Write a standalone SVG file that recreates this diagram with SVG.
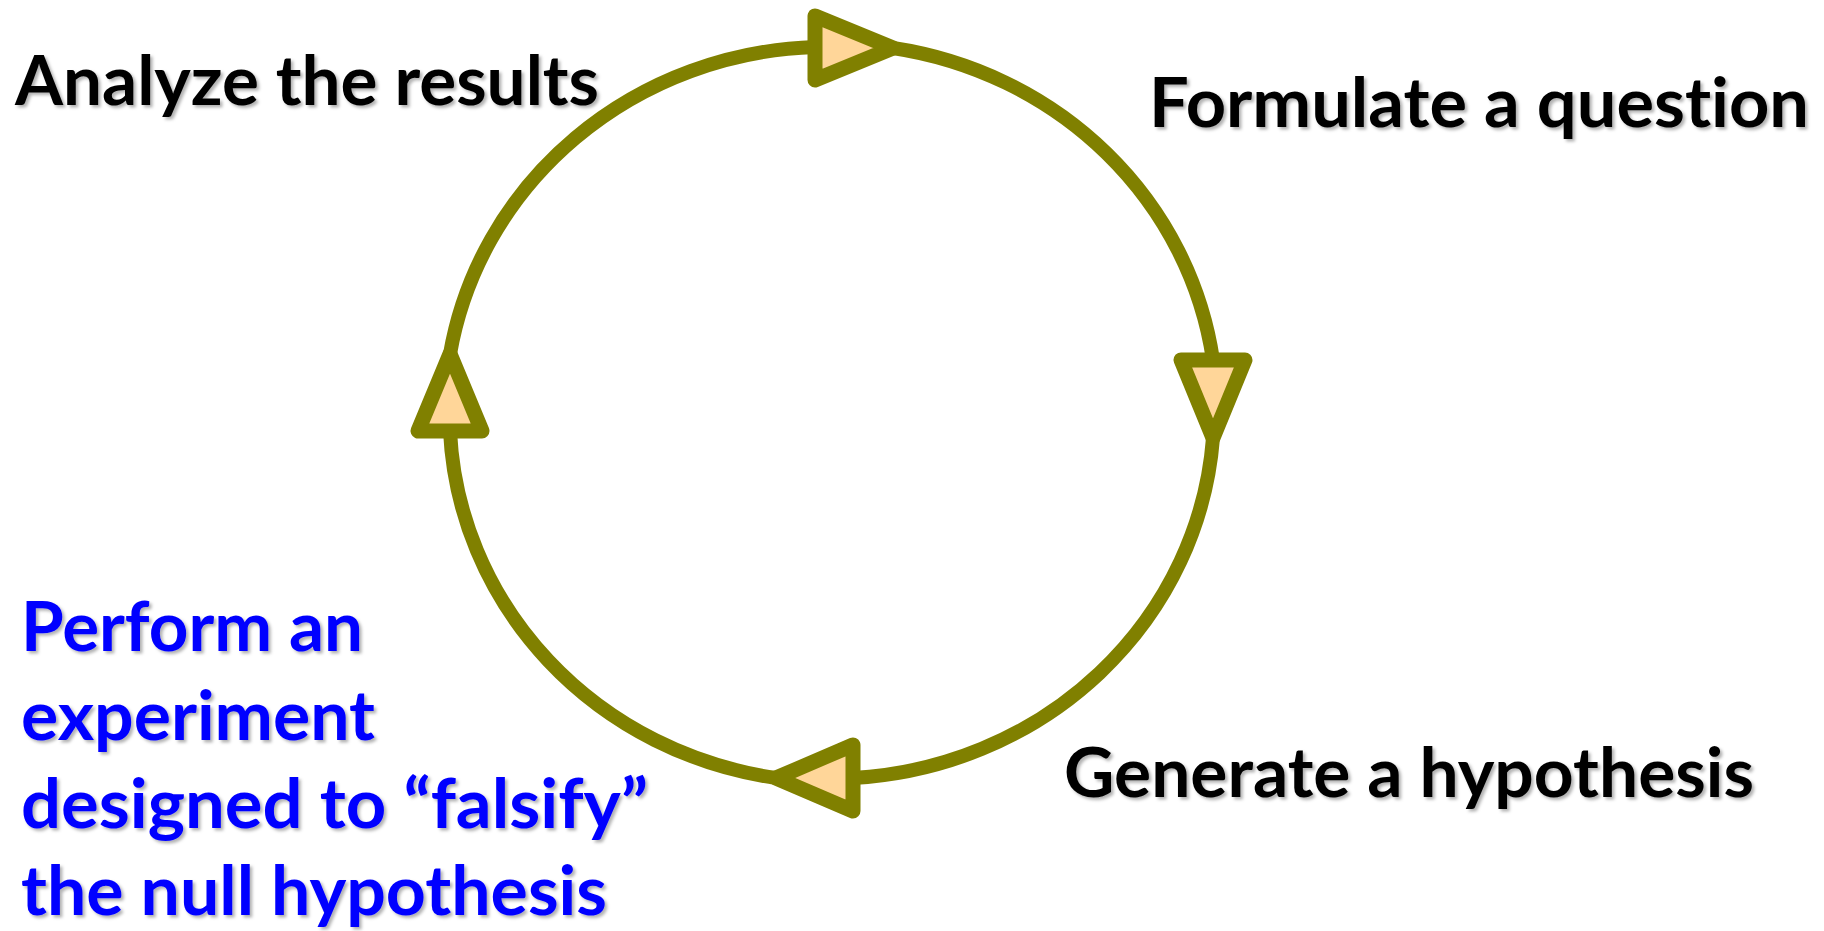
<svg xmlns="http://www.w3.org/2000/svg" width="1824" height="931" viewBox="0 0 1824 931">
<defs>
<filter id="sh" x="-5%" y="-20%" width="110%" height="140%">
<feDropShadow dx="2.5" dy="2.5" stdDeviation="1.5" flood-color="#000" flood-opacity="0.3"/>
</filter>
<style>
.lbl{font-family:Lato,"Open Sans","Liberation Sans",sans-serif;font-weight:700;font-size:69px;font-variant-ligatures:none;filter:url(#sh)}
.blk{fill:#000}
.blu{fill:#0000FF}
.arc{fill:none;stroke:#808000;stroke-width:14}
.head{fill:#FFD699;stroke:#808000;stroke-width:15;stroke-linejoin:round}
</style>
</defs>
<rect width="1824" height="931" fill="#fff"/>
<g id="connectors">
<path class="arc" d="M 893 48 A 383 368 0 0 1 1213 360"/>
<path class="arc" d="M 1213 438 A 383 368 0 0 1 853 778"/>
<path class="arc" d="M 776 778 A 383 368 0 0 1 450 431"/>
<path class="arc" d="M 450 354 A 383 368 0 0 1 815 47"/>
<polygon class="head" points="815,16 815,80 893,48"/>
<polygon class="head" points="1181,360 1245,360 1213,438"/>
<polygon class="head" points="853,745 853,811 776,778"/>
<polygon class="head" points="418,431 482,431 450,354"/>
</g>
<g id="analyze">
<text class="lbl blk" x="15" y="105" textLength="584" lengthAdjust="spacingAndGlyphs">Analyze the results</text>
</g>
<g id="formulate">
<text class="lbl blk" x="1149" y="127" textLength="660" lengthAdjust="spacingAndGlyphs">Formulate a question</text>
</g>
<g id="generate">
<text class="lbl blk" x="1064" y="797" textLength="690" lengthAdjust="spacingAndGlyphs">Generate a hypothesis</text>
</g>
<g id="perform">
<text class="lbl blu" x="21" y="651" textLength="342" lengthAdjust="spacingAndGlyphs">Perform an</text>
<text class="lbl blu" x="21" y="740" textLength="354" lengthAdjust="spacingAndGlyphs">experiment</text>
<text class="lbl blu" x="21" y="828" textLength="627" lengthAdjust="spacingAndGlyphs">designed to “falsify”</text>
<text class="lbl blu" x="21" y="915" textLength="586" lengthAdjust="spacingAndGlyphs">the null hypothesis</text>
</g>
</svg>
